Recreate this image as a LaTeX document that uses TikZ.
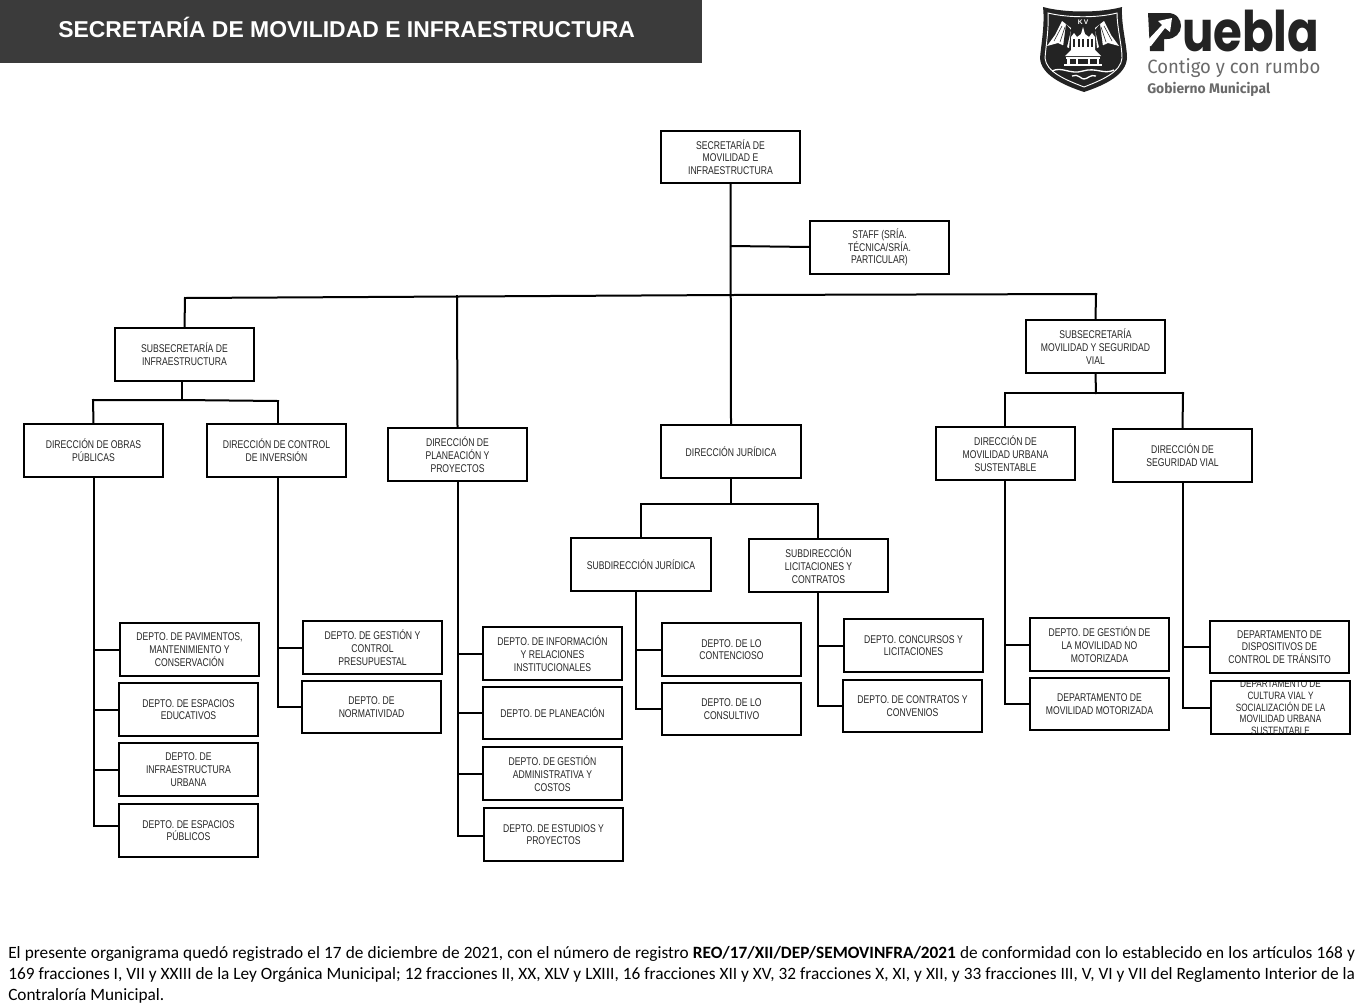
\documentclass[tikz,border=0pt]{standalone}
\usepackage{fontspec}
\setmainfont{Liberation Sans}
\newfontfamily\boxf[FakeStretch=0.77]{Liberation Sans}
\newfontfamily\footf{Carlito}
\newfontfamily\logof{Poppins}
\newfontfamily\slogf{Fira Sans}
\definecolor{bar}{HTML}{3B3B3B}
\definecolor{logok}{HTML}{232323}
\definecolor{logog}{HTML}{6A6A6A}
\tikzset{
 ln/.style={line width=1.5pt,black,line cap=rect,line join=miter},
 orgbox/.style={draw=black,line width=1.3pt,fill=white,inner sep=0pt,align=center,text=black!85,
   font=\boxf\fontsize{8.4pt}{9.55pt}\selectfont},
 lw/.style={fill=white,draw=none},
 lk/.style={fill=logok,draw=none}
}
\newcommand{\bx}[6]{%
 \pgfmathsetmacro{\boxw}{(#4-#2)*0.75}\pgfmathsetmacro{\boxh}{(#5-#3)*0.75}%
 \node[orgbox,minimum width=\boxw pt,minimum height=\boxh pt] (#1) at ({(#2+#4)/2},{(#3+#5)/2}) {#6};}
\begin{document}
\begin{tikzpicture}[x=0.75pt,y=-0.75pt]
\useasboundingbox (0,0) rectangle (1362,1007);
\fill[white] (0,0) rectangle (1362,1007);
% header
\fill[bar] (0,0) rectangle (702,63);
\node[anchor=west,inner sep=0pt,text=white,font=\bfseries\fontsize{17.2pt}{20pt}\selectfont] (title) at (58,27) {SECRETARÍA DE MOVILIDAD E INFRAESTRUCTURA};
% ---- logo: shield
\fill[logok] (1043,7) .. controls (1065,13) and (1100,13) .. (1122,7) .. controls (1121,25) and (1127,45) .. (1127,58)
  .. controls (1126,75) and (1105,85) .. (1084,92) .. controls (1063,85) and (1041,75) .. (1040,58) .. controls (1041,45) and (1045,25) .. (1043,7) -- cycle;
\draw[white,line width=0.7pt] (1048,13) .. controls (1068,18) and (1098,18) .. (1117,13) .. controls (1117,28) and (1122,45) .. (1122,58)
  .. controls (1121,72) and (1102,80) .. (1084,87) .. controls (1066,80) and (1046,72) .. (1045,58) .. controls (1046,45) and (1049,28) .. (1048,13) -- cycle;
% wings
\fill[lw] (1062,21) -- (1071,28) -- (1069,48) -- (1058,43) -- (1047,46) -- (1055,35) -- cycle;
\fill[lw] (1104,21) -- (1095,28) -- (1097,48) -- (1108,43) -- (1119,46) -- (1111,35) -- cycle;
\draw[logok,line width=0.4pt] (1062,26) -- (1054,41) (1065,27) -- (1060,42) (1104,26) -- (1112,41) (1101,27) -- (1106,42);
\fill[logok] (1066,24) -- (1071,30) -- (1067,47) -- (1063,47) -- cycle;
\fill[logok] (1100,24) -- (1095,30) -- (1099,47) -- (1103,47) -- cycle;
% KV
\node[inner sep=0pt,text=white,font=\bfseries\fontsize{5pt}{5pt}\selectfont] (kv) at (1083,22) {K\,V};
% church
\fill[lw] (1071,50) -- (1071,37) -- (1074,33) -- (1077,37) -- (1081,34) -- (1083,27) -- (1085,34) -- (1089,37) -- (1092,33) -- (1095,37) -- (1095,50) -- (1101,56) -- (1065,56) -- cycle;
\foreach \xx in {1073,1077.5,1082,1086.5,1091}{\fill[logok] (\xx,39) rectangle ++(2.2,8);}
\fill[lw] (1066,57) rectangle (1100,59);
\fill[lw] (1067,59) rectangle (1069.5,64); \fill[lw] (1096.5,59) rectangle (1099,64);
\fill[lw] (1076,59) rectangle (1078,64); \fill[lw] (1088,59) rectangle (1090,64);
\fill[lw] (1064,64) rectangle (1102,65.5);
% waves
\draw[white,line width=1pt] (1052,71) .. controls (1062,66) and (1070,75) .. (1083,71) .. controls (1096,67) and (1104,75) .. (1114,70);
\draw[white,line width=1pt] (1072,76) .. controls (1078,73) and (1082,80) .. (1084,79) .. controls (1088,79) and (1090,74) .. (1096,76);
% ---- logo: wordmark
\fill[logok] (1148,13) -- (1168,13) .. controls (1177,13) and (1181,20) .. (1181,26) .. controls (1181,33) and (1175,39) .. (1167,39) -- (1164,39) -- (1164,51) -- (1150,51) -- cycle;
\fill[white] (1147,46) -- (1151,46) -- (1165,28) -- (1170,32) -- (1172,18) -- (1158,21) -- (1162,25) -- (1147,41) -- cycle;
\node[anchor=base west,inner sep=0pt,outer sep=0pt,text=logok,yscale=1.2,text height=25pt,text depth=0pt,font=\logof\bfseries\fontsize{35pt}{35pt}\selectfont] (word) at (1182,51) {uebla};
\node[anchor=west,inner sep=0pt,text=logog,xscale=0.964,font=\slogf\fontsize{14.4pt}{15pt}\selectfont] (slogan) at (1147,68) {Contigo y con rumbo};
\node[anchor=west,inner sep=0pt,text=logog,font=\slogf\bfseries\fontsize{10.4pt}{10pt}\selectfont] (gob) at (1147,89.5) {Gobierno Municipal};
% ---- free connector junctions
\coordinate (trunkL) at (185,298);
\coordinate (trunkR) at (1096,294);
\coordinate (trunkP) at (457,296);
\coordinate (trunkC) at (731,295);
\coordinate (staffJ) at (731,246);
\coordinate (infB) at (182,381);
\coordinate (infJ) at (182,400);
\coordinate (infL) at (93,400);
\coordinate (infR) at (278,401);
\coordinate (movJ) at (1096,393);
\coordinate (movL) at (1005,393);
\coordinate (movR) at (1183,393);
\coordinate (jurJ) at (731,504);
\coordinate (jurL) at (641,504);
\coordinate (jurR) at (818,504);
\coordinate (sjB) at (636,591);
\coordinate (pubW) at (119,826);
\coordinate (estW) at (484,836);
% ---- connectors
\draw[ln] (trunkL) -- (trunkC) -- (trunkR);
\draw[ln] (staffJ) -- (810,247);
\draw[ln] (infL) -- (infJ) -- (infR);
\draw[ln] (movL) -- (movR);
\draw[ln] (jurL) -- (jurR);
% ---- boxes
\bx{sec}{661}{131}{800}{183}{SECRETARÍA DE\\MOVILIDAD E\\INFRAESTRUCTURA}
\bx{staff}{810}{221}{949}{274}{STAFF (SRÍA.\\TÉCNICA/SRÍA.\\PARTICULAR)}
\bx{subinf}{115}{328}{254}{381}{SUBSECRETARÍA DE\\INFRAESTRUCTURA}
\bx{submov}{1026}{320}{1165}{373}{SUBSECRETARÍA\\MOVILIDAD Y SEGURIDAD\\VIAL}
\bx{dop}{24}{424}{163}{477}{DIRECCIÓN DE OBRAS\\PÚBLICAS}
\bx{dci}{207}{424}{346}{477}{DIRECCIÓN DE CONTROL\\DE INVERSIÓN}
\bx{dpp}{388}{428}{527}{481}{DIRECCIÓN DE\\PLANEACIÓN Y\\PROYECTOS}
\bx{dj}{661}{425}{801}{478}{DIRECCIÓN JURÍDICA}
\bx{dmu}{936}{427}{1075}{480}{DIRECCIÓN DE\\MOVILIDAD URBANA\\SUSTENTABLE}
\bx{dsv}{1113}{429}{1252}{482}{DIRECCIÓN DE\\SEGURIDAD VIAL}
\bx{sj}{571}{538}{711}{591}{SUBDIRECCIÓN JURÍDICA}
\bx{slc}{749}{539}{888}{592}{SUBDIRECCIÓN\\LICITACIONES Y\\CONTRATOS}
\bx{pav}{120}{623}{259}{676}{DEPTO. DE PAVIMENTOS,\\MANTENIMIENTO Y\\CONSERVACIÓN}
\bx{edu}{119}{683}{258}{736}{DEPTO. DE ESPACIOS\\EDUCATIVOS}
\bx{inf}{119}{743}{258}{796}{DEPTO. DE\\INFRAESTRUCTURA\\URBANA}
\bx{pub}{119}{804}{258}{857}{DEPTO. DE ESPACIOS\\PÚBLICOS}
\bx{gcp}{303}{621}{442}{674}{DEPTO. DE GESTIÓN Y\\CONTROL\\PRESUPUESTAL}
\bx{nor}{302}{681}{441}{733}{DEPTO. DE\\NORMATIVIDAD}
\bx{ire}{483}{627}{622}{680}{DEPTO. DE INFORMACIÓN\\Y RELACIONES\\INSTITUCIONALES}
\bx{pla}{483}{687}{622}{739}{DEPTO. DE PLANEACIÓN}
\bx{gac}{483}{747}{622}{800}{DEPTO. DE GESTIÓN\\ADMINISTRATIVA Y\\COSTOS}
\bx{est}{484}{808}{623}{861}{DEPTO. DE ESTUDIOS Y\\PROYECTOS}
\bx{con}{662}{623}{801}{676}{DEPTO. DE LO\\CONTENCIOSO}
\bx{cns}{662}{683}{801}{735}{DEPTO. DE LO\\CONSULTIVO}
\bx{cur}{844}{619}{983}{672}{DEPTO. CONCURSOS Y\\LICITACIONES}
\bx{ctr}{843}{680}{982}{732}{DEPTO. DE CONTRATOS Y\\CONVENIOS}
\bx{gnm}{1030}{618}{1169}{671}{DEPTO. DE GESTIÓN DE\\LA MOVILIDAD NO\\MOTORIZADA}
\bx{mmo}{1030}{678}{1169}{730}{DEPARTAMENTO DE\\MOVILIDAD MOTORIZADA}
\bx{dis}{1210}{621}{1349}{673}{DEPARTAMENTO DE\\DISPOSITIVOS DE\\CONTROL DE TRÁNSITO}
\bx{cul}{1211}{681}{1350}{734}{}
\begin{scope}
\clip ([yshift=-1.4pt]cul.north west) rectangle ([yshift=1.4pt]cul.south east);
\node[inner sep=0pt,align=center,text=black!85,font=\boxf\fontsize{8pt}{8.85pt}\selectfont] (cultxt) at (cul.center) {DEPARTAMENTO DE\\CULTURA VIAL Y\\SOCIALIZACIÓN DE LA\\MOVILIDAD URBANA\\SUSTENTABLE};
\end{scope}
% ---- vertical connectors
\draw[ln] (sec.south) -- (dj.north);
\draw[ln] (trunkL) -- (subinf.north);
\draw[ln] (trunkR) -- (submov.north);
\draw[ln] (trunkP) -- (dpp.north);
\draw[ln] (infB) -- (infJ);
\draw[ln] (infL) -- (dop.north);
\draw[ln] (infR) -- (278,424);
\draw[ln] (submov.south) -- (movJ);
\draw[ln] (movL) -- (1005,427);
\draw[ln] (movR) -- (dsv.north);
\draw[ln] (dj.south) -- (jurJ);
\draw[ln] (jurL) -- (sj.north);
\draw[ln] (jurR) -- (818,539);
% ---- spines
\draw[ln] (dop.south) |- (pav.west);
\draw[ln] (dop.south) |- (edu.west);
\draw[ln] (dop.south) |- (inf.west);
\draw[ln] (dop.south) |- (pubW);
\draw[ln] (278,477) |- (gcp.west);
\draw[ln] (278,477) |- (nor.west);
\draw[ln] (dpp.south) |- (ire.west);
\draw[ln] (dpp.south) |- (pla.west);
\draw[ln] (dpp.south) |- (gac.west);
\draw[ln] (dpp.south) |- (estW);
\draw[ln] (sjB) |- (con.west);
\draw[ln] (sjB) |- (cns.west);
\draw[ln] (818,592) |- (cur.west);
\draw[ln] (818,592) |- (ctr.west);
\draw[ln] (1005,480) |- (gnm.west);
\draw[ln] (1005,480) |- (mmo.west);
\draw[ln] (1183,482) |- (dis.west);
\draw[ln] (1183,482) |- (cul.west);
% ---- footer
\node[anchor=north west,inner sep=0pt,text=black] (foot) at (8,946) {\parbox[t]{1010pt}{\footf\fontsize{12.95pt}{15.75pt}\selectfont\parindent=0pt El presente organigrama quedó registrado el 17 de diciembre de 2021, con el número de registro \textbf{REO/17/XII/DEP/SEMOVINFRA/2021} de conformidad con lo establecido en los artículos 168 y\linebreak 169 fracciones I, VII y XXIII de la Ley Orgánica Municipal; 12 fracciones II, XX, XLV y LXIII, 16 fracciones XII y XV, 32 fracciones X, XI, y XII, y 33 fracciones III, V, VI y VII del Reglamento Interior de la\linebreak Contraloría Municipal.}};
\end{tikzpicture}
\end{document}
